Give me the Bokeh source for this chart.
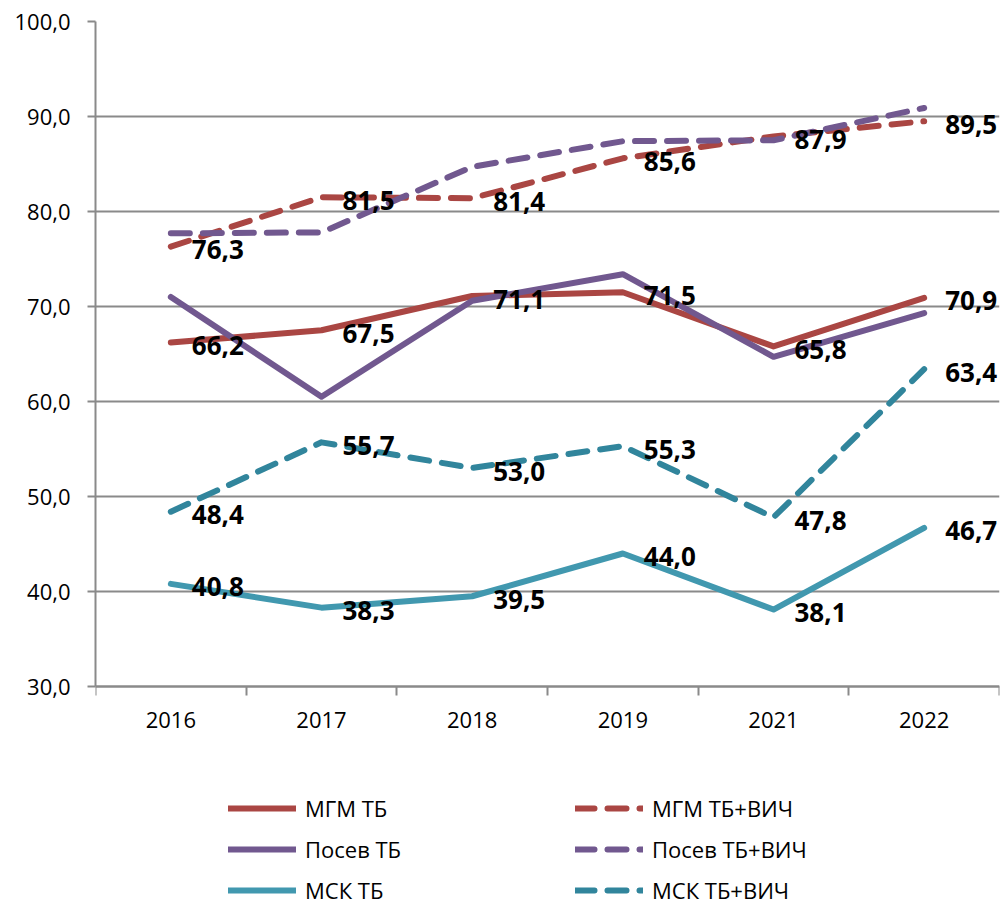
from bokeh.plotting import figure
from bokeh.models import (Range1d, FixedTicker, ColumnDataSource, LabelSet,
                          Legend, LegendItem)
from bokeh.core.properties import value
from bokeh.embed import file_html
from bokeh.resources import INLINE

# ---- data -------------------------------------------------------------
years = ["2016", "2017", "2018", "2019", "2021", "2022"]

mgm_tb = [66.2, 67.5, 71.1, 71.5, 65.8, 70.9]
mgm_tb_hiv = [76.3, 81.5, 81.4, 85.6, 87.9, 89.5]
posev_tb = [71.0, 60.5, 70.6, 73.4, 64.7, 69.3]
posev_tb_hiv = [77.7, 77.8, 84.7, 87.4, 87.5, 90.9]
msk_tb = [40.8, 38.3, 39.5, 44.0, 38.1, 46.7]
msk_tb_hiv = [48.4, 55.7, 53.0, 55.3, 47.8, 63.4]

series_names = ["МГМ ТБ", "МГМ ТБ+ВИЧ", "Посев ТБ", "Посев ТБ+ВИЧ",
                "МСК ТБ", "МСК ТБ+ВИЧ"]
series_values = [mgm_tb, mgm_tb_hiv, posev_tb, posev_tb_hiv, msk_tb, msk_tb_hiv]
series_labelled = [True, True, False, False, True, True]

y_ticks = [30, 40, 50, 60, 70, 80, 90, 100]
y_tick_labels = ["30,0", "40,0", "50,0", "60,0", "70,0", "80,0", "90,0", "100,0"]
Y_MIN, Y_MAX = 30, 100

# ---- styles / layout --------------------------------------------------
RED = "#AA4643"
PURPLE = "#71588F"
TEAL = "#4198AF"
TEAL_D = "#31859C"
series_colors = [RED, RED, PURPLE, PURPLE, TEAL, TEAL_D]
series_dash = ["solid", "19 13", "solid", "19 13", "solid", "19 13"]
GRAY = "#8A8A8A"
FONT = "Open Sans"

W, H = 1006, 906
LEFT, RIGHT, TOP = 95, 7, 21
PLOT_BOTTOM = 686            # pixel row of the value 30 line
px_per_unit = (PLOT_BOTTOM - TOP) / (Y_MAX - Y_MIN)
y_low = Y_MIN - (H - PLOT_BOTTOM) / px_per_unit   # frame extends under the legend

xs = [i + 0.5 for i in range(len(years))]
edges = [i for i in range(len(years) + 1)]

p = figure(width=W, height=H, output_backend="svg", toolbar_location=None,
           x_range=Range1d(0, len(years)), y_range=Range1d(y_low, Y_MAX),
           min_border_left=LEFT, min_border_right=RIGHT, min_border_top=TOP,
           min_border_bottom=0)
p.outline_line_color = None
p.background_fill_color = "white"
p.border_fill_color = "white"

# x axis (sits at value 30)
xt = FixedTicker(ticks=xs, minor_ticks=edges)
p.xaxis.ticker = xt
p.xaxis.fixed_location = Y_MIN
p.xaxis.major_label_overrides = {x: y for x, y in zip(xs, years)}
p.xaxis.major_tick_line_color = None
p.xaxis.major_tick_out = 0
p.xaxis.major_tick_in = 0
p.xaxis.minor_tick_out = 9
p.xaxis.minor_tick_in = 0
p.xaxis.minor_tick_line_color = GRAY
p.xaxis.minor_tick_line_width = 2
p.xaxis.axis_line_color = GRAY
p.xaxis.axis_line_width = 2
p.xaxis.major_label_standoff = 16
p.xaxis.major_label_text_font = FONT
p.xaxis.major_label_text_font_size = "22px"
p.xaxis.major_label_text_color = "black"

# y axis
yt = FixedTicker(ticks=y_ticks, minor_ticks=[])
p.yaxis.ticker = yt
p.yaxis.bounds = (Y_MIN, Y_MAX)
p.yaxis.major_label_overrides = {t: s for t, s in zip(y_ticks, y_tick_labels)}
p.yaxis.major_tick_out = 8
p.yaxis.major_tick_in = 0
p.yaxis.major_tick_line_color = GRAY
p.yaxis.major_tick_line_width = 2
p.yaxis.minor_tick_line_color = None
p.yaxis.axis_line_color = GRAY
p.yaxis.axis_line_width = 2
p.yaxis.major_label_standoff = 17
p.yaxis.major_label_text_font = FONT
p.yaxis.major_label_text_font_size = "22px"
p.yaxis.major_label_text_color = "black"

p.xgrid.visible = False
p.ygrid.ticker = yt
p.ygrid.grid_line_color = GRAY
p.ygrid.grid_line_width = 2

# lines
renderers = []
for vals, col, dash in zip(series_values, series_colors, series_dash):
    r = p.line(xs, vals, line_color=col, line_width=6, line_dash=dash,
               line_cap="round", line_join="round")
    renderers.append(r)

# data labels
for vals, lab in zip(series_values, series_labelled):
    if not lab:
        continue
    src = ColumnDataSource(dict(x=xs, y=vals,
                                t=[f"{v:.1f}".replace(".", ",") for v in vals]))
    ls = LabelSet(x="x", y="y", text="t", source=src, x_offset=21, y_offset=-3,
                  text_align="left", text_baseline="middle",
                  text_font=value(FONT), text_font_style="bold",
                  text_font_size="26px", text_color="black")
    p.add_layout(ls)

# legends (two columns)
def make_legend(idx, loc):
    items = [LegendItem(label=series_names[i], renderers=[renderers[i]]) for i in idx]
    return Legend(items=items, location=loc, orientation="vertical",
                  glyph_width=68, glyph_height=30, label_height=30,
                  label_standoff=9, spacing=11, padding=0, margin=0,
                  border_line_color=None, background_fill_alpha=0,
                  label_text_font=FONT, label_text_font_size="22px",
                  label_text_color="black")

p.add_layout(make_legend([0, 2, 4], (133, 1)), "center")
p.add_layout(make_legend([1, 3, 5], (480, 1)), "center")

open("out.html", "w").write(file_html(p, INLINE))
